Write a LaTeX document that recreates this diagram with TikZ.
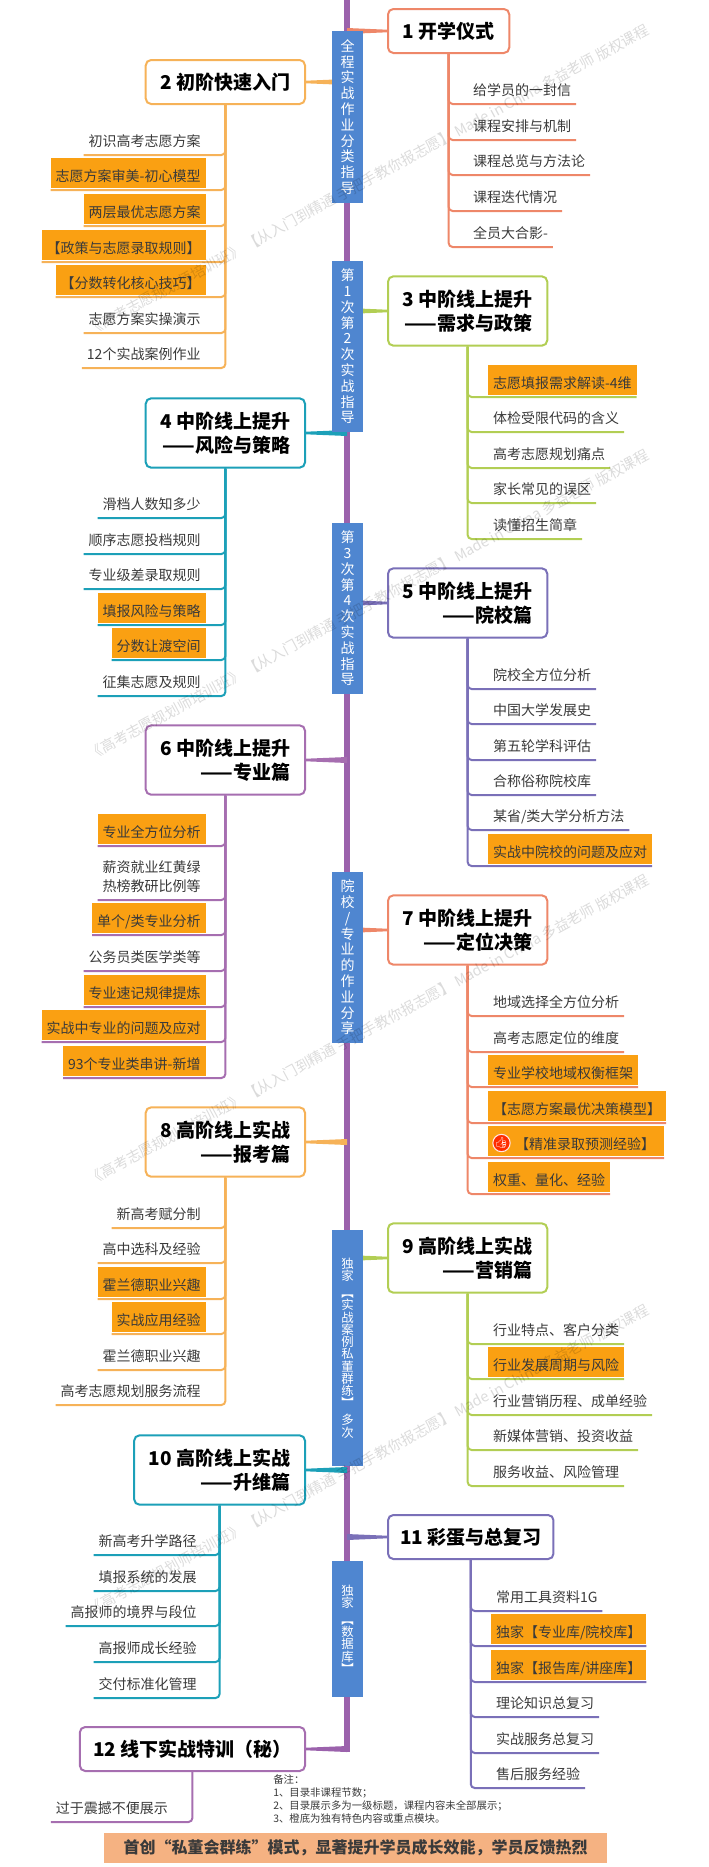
\documentclass[tikz,border=0pt]{standalone}
\usepackage{fontspec}
\setmainfont{Noto Sans CJK SC}
\newfontfamily\emojifont{Noto Emoji}
\usetikzlibrary{calc}
\definecolor{spinepurple}{RGB}{155,98,172}
\definecolor{barblue}{RGB}{79,134,208}
\definecolor{hotorange}{RGB}{250,160,18}
\definecolor{coral}{RGB}{238,135,105}
\definecolor{sand}{RGB}{246,178,88}
\definecolor{lime}{RGB}{178,206,84}
\definecolor{teal}{RGB}{28,160,184}
\definecolor{iris}{RGB}{122,112,184}
\definecolor{plum}{RGB}{166,110,176}
\definecolor{note}{RGB}{58,58,58}
\definecolor{peach}{RGB}{245,178,130}
\newcommand{\wmtext}{《高考志愿规划师培训班》 【从入门到精通 手把手教你报志愿】 Made in China 多益老师 版权课程}
\newcommand{\tightlines}{\lineskiplimit=-5pt\relax}
% tapered limb from a topic box to the spine
\newcommand{\limb}[3]{\fill[#1] ($(#2)+(0,1.3)$) -- ($(#2)+(0,-1.3)$) -- ($(#3)+(0,-3)$) -- ($(#3)+(0,3)$) -- cycle ;}
\tikzset{
  topic/.style={draw, line width=1.5pt, rounded corners=4pt, fill=white, align=right, inner xsep=11pt, minimum height=33pt, font=\fontsize{14.25}{18.25}\selectfont\bfseries},
  topicl/.style={topic, anchor=east},
  topicr/.style={topic, anchor=west},
  tall/.style={minimum height=52pt},
  leaf/.style={inner xsep=3.75pt, inner ysep=5.25pt, outer sep=0pt, outer ysep=1.5pt, text height=12pt, text depth=0pt, text=note, align=center, font=\fontsize{10.5}{14}\selectfont},
  leafl/.style={leaf, anchor=south east},
  leafr/.style={leaf, anchor=south west},
  hot/.style={fill=hotorange},
  twig/.style={line width=1.5pt, rounded corners=3pt},
  barbox/.style={fill=barblue, text=white, minimum width=23.25pt, inner xsep=0pt, align=center, font=\fontsize{10.5}{11.85}\selectfont},
  barthin/.style={barbox, font=\fontsize{9.3}{9.2}\selectfont\tightlines},
  wmark/.style={anchor=west, rotate=28.4, text=black, text opacity=0.14, font=\fontsize{10.9}{13}\selectfont},
}
\begin{document}
\begin{tikzpicture}[x=0.75pt,y=0.75pt,yscale=-1,xscale=1]
        \path[use as bounding box] (0,0) rectangle (709,1867);

        %Spine
        \coordinate (spinetop) at (347,0);
        \coordinate (spinebot) at (347,1752);
        \draw[spinepurple, line width=4.5pt] (spinetop) -- (spinebot);

        %Topic boxes
        \node[topicr, draw=coral] (t1) at (387,31) {1 开学仪式};
        \node[topicl, draw=sand] (t2) at (306,82) {2 初阶快速入门};
        \node[topicr, tall, draw=lime] (t3) at (387,311) {3 中阶线上提升\\——需求与政策};
        \node[topicl, tall, draw=teal] (t4) at (306,433) {4 中阶线上提升\\——风险与策略};
        \node[topicr, tall, draw=iris] (t5) at (387,603) {5 中阶线上提升\\——院校篇};
        \node[topicl, tall, draw=plum] (t6) at (306,760) {6 中阶线上提升\\——专业篇};
        \node[topicr, tall, draw=coral] (t7) at (387,930) {7 中阶线上提升\\——定位决策};
        \node[topicl, tall, draw=sand] (t8) at (306,1142) {8 高阶线上实战\\——报考篇};
        \node[topicr, tall, draw=lime] (t9) at (387,1258) {9 高阶线上实战\\——营销篇};
        \node[topicl, tall, draw=teal] (t10) at (306,1470) {10 高阶线上实战\\——升维篇};
        \node[topicr, draw=iris, inner xsep=9pt] (t11) at (387,1537) {11 彩蛋与总复习};
        \node[topicl, draw=plum, inner xsep=10pt] (t12) at (306,1749) {12 线下实战特训（秘）};

        %Limbs
        \limb{coral}{t1.west}{t1.west -| spinetop}
        \limb{sand}{t2.east}{t2.east -| spinetop}
        \limb{lime}{t3.west}{t3.west -| spinetop}
        \limb{teal}{t4.east}{t4.east -| spinetop}
        \limb{iris}{t5.west}{t5.west -| spinetop}
        \limb{plum}{t6.east}{t6.east -| spinetop}
        \limb{coral}{t7.west}{t7.west -| spinetop}
        \limb{sand}{t8.east}{t8.east -| spinetop}
        \limb{lime}{t9.west}{t9.west -| spinetop}
        \limb{teal}{t10.east}{t10.east -| spinetop}
        \limb{iris}{t11.west}{t11.west -| spinetop}
        \limb{spinepurple}{t12.east}{t12.east -| spinetop}

        %Blue bars
        \node[barbox, minimum height=129pt] (b1) at (347.5,117) {全\\程\\实\\战\\作\\业\\分\\类\\指\\导};
        \node[barbox, minimum height=128.25pt] (b2) at (347.5,346.5) {第\\1\\次\\第\\2\\次\\实\\战\\指\\导};
        \node[barbox, minimum height=128.25pt] (b3) at (347.5,608.5) {第\\3\\次\\第\\4\\次\\实\\战\\指\\导};
        \node[barbox, minimum height=128.25pt] (b4) at (347.5,957.5) {院\\校\\/\\专\\业\\的\\作\\业\\分\\享};
        \node[barthin, minimum height=177pt] (b5) at (347.5,1348) {独\\家\\[3.5pt]︻\\实\\战\\案\\例\\私\\董\\群\\练\\︼\\[3.5pt]多\\次};
        \node[barthin, minimum height=102pt] (b6) at (347.5,1629) {独\\家\\[3.5pt]︻\\数\\据\\库\\︼};

        % Text Node
        \node[leafr] (t1a) at (468,104) {给学员的一封信};
        \node[leafr] (t1b) at (468,140) {课程安排与机制};
        \node[leafr] (t1c) at (468,175) {课程总览与方法论};
        \node[leafr] (t1d) at (468,211) {课程迭代情况};
        \node[leafr] (t1e) at (468,247) {全员大合影-};
        \draw[twig, coral] (t1.south) |- (t1a.south east);
        \draw[twig, coral] (t1.south) |- (t1b.south east);
        \draw[twig, coral] (t1.south) |- (t1c.south east);
        \draw[twig, coral] (t1.south) |- (t1d.south east);
        \draw[twig, coral] (t1.south) |- (t1e.south east);

        % Text Node
        \node[leafl] (t2a) at (205.5,155) {初识高考志愿方案};
        \node[leafl, hot] (t2b) at (205.5,190) {志愿方案审美-初心模型};
        \node[leafl, hot] (t2c) at (205.5,226) {两层最优志愿方案};
        \node[leafl, hot] (t2d) at (205.5,262) {【政策与志愿录取规则】};
        \node[leafl, hot] (t2e) at (205.5,297) {【分数转化核心技巧】};
        \node[leafl] (t2f) at (205.5,333) {志愿方案实操演示};
        \node[leafl] (t2g) at (205.5,368) {12个实战案例作业};
        \draw[twig, sand] (t2.south) |- (t2a.south west);
        \draw[twig, sand] (t2.south) |- (t2b.south west);
        \draw[twig, sand] (t2.south) |- (t2c.south west);
        \draw[twig, sand] (t2.south) |- (t2d.south west);
        \draw[twig, sand] (t2.south) |- (t2e.south west);
        \draw[twig, sand] (t2.south) |- (t2f.south west);
        \draw[twig, sand] (t2.south) |- (t2g.south west);

        % Text Node
        \node[leafr, hot] (t3a) at (488,397) {志愿填报需求解读-4维};
        \node[leafr] (t3b) at (488,432) {体检受限代码的含义};
        \node[leafr] (t3c) at (488,468) {高考志愿规划痛点};
        \node[leafr] (t3d) at (488,503) {家长常见的误区};
        \node[leafr] (t3e) at (488,539) {读懂招生简章};
        \draw[twig, lime] (t3.south) |- (t3a.south east);
        \draw[twig, lime] (t3.south) |- (t3b.south east);
        \draw[twig, lime] (t3.south) |- (t3c.south east);
        \draw[twig, lime] (t3.south) |- (t3d.south east);
        \draw[twig, lime] (t3.south) |- (t3e.south east);

        % Text Node
        \node[leafl] (t4a) at (205.5,518) {滑档人数知多少};
        \node[leafl] (t4b) at (205.5,554) {顺序志愿投档规则};
        \node[leafl] (t4c) at (205.5,589) {专业级差录取规则};
        \node[leafl, hot] (t4d) at (205.5,625) {填报风险与策略};
        \node[leafl, hot] (t4e) at (205.5,660) {分数让渡空间};
        \node[leafl] (t4f) at (205.5,696) {征集志愿及规则};
        \draw[twig, teal] (t4.south) |- (t4a.south west);
        \draw[twig, teal] (t4.south) |- (t4b.south west);
        \draw[twig, teal] (t4.south) |- (t4c.south west);
        \draw[twig, teal] (t4.south) |- (t4d.south west);
        \draw[twig, teal] (t4.south) |- (t4e.south west);
        \draw[twig, teal] (t4.south) |- (t4f.south west);

        % Text Node
        \node[leafr] (t5a) at (488,689) {院校全方位分析};
        \node[leafr] (t5b) at (488,724) {中国大学发展史};
        \node[leafr] (t5c) at (488,760) {第五轮学科评估};
        \node[leafr] (t5d) at (488,795) {合称俗称院校库};
        \node[leafr] (t5e) at (488,830) {某省/类大学分析方法};
        \node[leafr, hot] (t5f) at (488,866) {实战中院校的问题及应对};
        \draw[twig, iris] (t5.south) |- (t5a.south east);
        \draw[twig, iris] (t5.south) |- (t5b.south east);
        \draw[twig, iris] (t5.south) |- (t5c.south east);
        \draw[twig, iris] (t5.south) |- (t5d.south east);
        \draw[twig, iris] (t5.south) |- (t5e.south east);
        \draw[twig, iris] (t5.south) |- (t5f.south east);

        % Text Node
        \node[leafl, hot] (t6a) at (205.5,846) {专业全方位分析};
        \node[leafl] (t6b) at (205.5,900) {薪资就业红黄绿\\热榜教研比例等};
        \node[leafl, hot] (t6c) at (205.5,935) {单个/类专业分析};
        \node[leafl] (t6d) at (205.5,971) {公务员类医学类等};
        \node[leafl, hot] (t6e) at (205.5,1007) {专业速记规律提炼};
        \node[leafl, hot] (t6f) at (205.5,1042) {实战中专业的问题及应对};
        \node[leafl, hot] (t6g) at (205.5,1078) {93个专业类串讲-新增};
        \draw[twig, plum] (t6.south) |- (t6a.south west);
        \draw[twig, plum] (t6.south) |- (t6b.south west);
        \draw[twig, plum] (t6.south) |- (t6c.south west);
        \draw[twig, plum] (t6.south) |- (t6d.south west);
        \draw[twig, plum] (t6.south) |- (t6e.south west);
        \draw[twig, plum] (t6.south) |- (t6f.south west);
        \draw[twig, plum] (t6.south) |- (t6g.south west);

        % Text Node
        \node[leafr] (t7a) at (488,1016) {地域选择全方位分析};
        \node[leafr] (t7b) at (488,1052) {高考志愿定位的维度};
        \node[leafr, hot] (t7c) at (488,1087) {专业学校地域权衡框架};
        \node[leafr, hot] (t7d) at (488,1123) {【志愿方案最优决策模型】};
        \node[leafr, hot] (t7e) at (488,1158) {\hspace{16.5pt}【精准录取预测经验】\hspace{3pt}};
        \node[leafr, hot] (t7f) at (488,1194) {权重、量化、经验};
        \node[circle, fill=red!65!orange, draw=white!90!red, line width=0.8pt, inner sep=0pt, minimum size=12pt, text=white, font=\emojifont\fontsize{8}{8}\selectfont] (t7thumb) at (501.5,1143) {👍};
        \draw[twig, coral] (t7.south) |- (t7a.south east);
        \draw[twig, coral] (t7.south) |- (t7b.south east);
        \draw[twig, coral] (t7.south) |- (t7c.south east);
        \draw[twig, coral] (t7.south) |- (t7d.south east);
        \draw[twig, coral] (t7.south) |- (t7e.south east);
        \draw[twig, coral] (t7.south) |- (t7f.south east);

        % Text Node
        \node[leafl] (t8a) at (205.5,1228) {新高考赋分制};
        \node[leafl] (t8b) at (205.5,1263) {高中选科及经验};
        \node[leafl, hot] (t8c) at (205.5,1299) {霍兰德职业兴趣};
        \node[leafl, hot] (t8d) at (205.5,1334) {实战应用经验};
        \node[leafl] (t8e) at (205.5,1370) {霍兰德职业兴趣};
        \node[leafl] (t8f) at (205.5,1405) {高考志愿规划服务流程};
        \draw[twig, sand] (t8.south) |- (t8a.south west);
        \draw[twig, sand] (t8.south) |- (t8b.south west);
        \draw[twig, sand] (t8.south) |- (t8c.south west);
        \draw[twig, sand] (t8.south) |- (t8d.south west);
        \draw[twig, sand] (t8.south) |- (t8e.south west);
        \draw[twig, sand] (t8.south) |- (t8f.south west);

        % Text Node
        \node[leafr] (t9a) at (488,1344) {行业特点、客户分类};
        \node[leafr, hot] (t9b) at (488,1379) {行业发展周期与风险};
        \node[leafr] (t9c) at (488,1415) {行业营销历程、成单经验};
        \node[leafr] (t9d) at (488,1450) {新媒体营销、投资收益};
        \node[leafr] (t9e) at (488,1486) {服务收益、风险管理};
        \draw[twig, lime] (t9.south) |- (t9a.south east);
        \draw[twig, lime] (t9.south) |- (t9b.south east);
        \draw[twig, lime] (t9.south) |- (t9c.south east);
        \draw[twig, lime] (t9.south) |- (t9d.south east);
        \draw[twig, lime] (t9.south) |- (t9e.south east);

        % Text Node
        \node[leafl] (t10a) at (201.5,1555) {新高考升学路径};
        \node[leafl] (t10b) at (201.5,1591) {填报系统的发展};
        \node[leafl] (t10c) at (201.5,1626) {高报师的境界与段位};
        \node[leafl] (t10d) at (201.5,1662) {高报师成长经验};
        \node[leafl] (t10e) at (201.5,1698) {交付标准化管理};
        \draw[twig, teal] (t10.south) |- (t10a.south west);
        \draw[twig, teal] (t10.south) |- (t10b.south west);
        \draw[twig, teal] (t10.south) |- (t10c.south west);
        \draw[twig, teal] (t10.south) |- (t10d.south west);
        \draw[twig, teal] (t10.south) |- (t10e.south west);

        % Text Node
        \node[leafr] (t11a) at (491,1611) {常用工具资料1G};
        \node[leafr, hot] (t11b) at (491,1646) {独家【专业库/院校库】};
        \node[leafr, hot] (t11c) at (491,1682) {独家【报告库/讲座库】};
        \node[leafr] (t11d) at (491,1717) {理论知识总复习};
        \node[leafr] (t11e) at (491,1753) {实战服务总复习};
        \node[leafr] (t11f) at (491,1788) {售后服务经验};
        \draw[twig, iris] (t11.south) |- (t11a.south east);
        \draw[twig, iris] (t11.south) |- (t11b.south east);
        \draw[twig, iris] (t11.south) |- (t11c.south east);
        \draw[twig, iris] (t11.south) |- (t11d.south east);
        \draw[twig, iris] (t11.south) |- (t11e.south east);
        \draw[twig, iris] (t11.south) |- (t11f.south east);

        % Text Node
        \node[leafl] (t12a) at (172.8,1822) {过于震撼不便展示};
        \draw[twig, plum] (t12.south) |- (t12a.south west);

        % Notes
        \node[anchor=north west, inner sep=0pt, align=left, text=note, font=\fontsize{7.8}{9.75}\selectfont] (notes) at (273,1774) {备注：\\1、目录非课程节数；\\2、目录展示多为一级标题，课程内容未全部展示；\\3、橙底为独有特色内容或重点模块。};
        \node[fill=peach, minimum width=377.5pt, minimum height=22.5pt, inner sep=0pt, font=\fontsize{12}{14}\selectfont\bfseries, text=note] (banner) at (355.5,1848) {首创“私董会群练”模式，显著提升学员成长效能，学员反馈热烈};

        % Watermark
        \node[wmark] (wm1) at (85,333) {\wmtext};
        \node[wmark] (wm2) at (85,758) {\wmtext};
        \node[wmark] (wm3) at (85,1183) {\wmtext};
        \node[wmark] (wm4) at (85,1613) {\wmtext};
\end{tikzpicture}
\end{document}
